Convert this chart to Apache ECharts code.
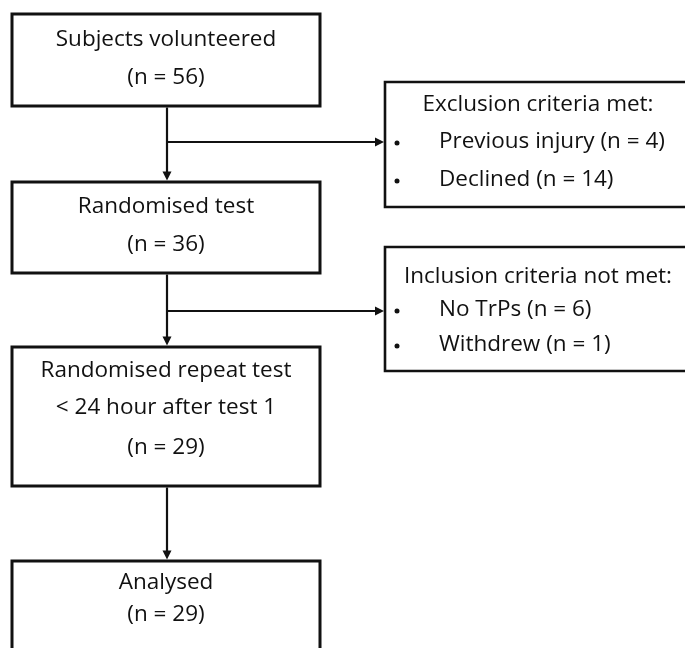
<!DOCTYPE html>
<html><head><meta charset="utf-8">
<script src="https://cdn.jsdelivr.net/npm/echarts@6/dist/echarts.min.js"></script>
<style>html,body{margin:0;padding:0;background:#fff}#c{width:685px;height:648px}</style>
</head><body><div id="c"></div>
<script>
// Flow stages (main column)
const stageLabels = ['Subjects volunteered', 'Randomised test', 'Randomised repeat test\n< 24 hour after test 1', 'Analysed'];
const stageCounts = [56, 36, 29, 29];
// Side boxes
const sideTitles = ['Exclusion criteria met:', 'Inclusion criteria not met:'];
const sideReasons = [['Previous injury', 'Declined'], ['No TrPs', 'Withdrew']];
const sideCounts = [[4, 14], [6, 1]];

const chart = echarts.init(document.getElementById('c'), null, {renderer: 'canvas'});
const FONT = '"Open Sans", "Noto Sans", sans-serif';
const FS = 22.5;
const COL = '#111';

// layout (pixels)
const mainBoxes = [
  {x: 12, y: 14, w: 308, h: 92, lines: [40, 78]},
  {x: 12, y: 182, w: 308, h: 91, lines: [207, 245]},
  {x: 12, y: 347, w: 308, h: 139, lines: [371, 408, 448]},
  {x: 12, y: 561, w: 308, h: 100, lines: [583, 615]}
];
const sideBoxes = [
  {x: 385, y: 82, w: 320, h: 125, titleX: 538, titleY: 105, rowY: [142, 180], branchY: 142},
  {x: 385, y: 247, w: 320, h: 124, titleX: 538, titleY: 277, rowY: [310, 345], branchY: 311}
];
const cx = 167;

const g = [];
function txt(x, y, s, align) {
  g.push({type: 'text', x: x, y: y, style: {text: s, font: FS + 'px ' + FONT, fill: COL, align: align || 'center', verticalAlign: 'middle'}});
}
function line(x1, y1, x2, y2) {
  g.push({type: 'line', shape: {x1, y1, x2, y2}, style: {stroke: COL, lineWidth: 2.2}});
}
function arrowDown(x, y) { // tip at (x,y)
  g.push({type: 'polygon', shape: {points: [[x - 4.5, y - 9], [x + 4.5, y - 9], [x, y]]}, style: {fill: COL}});
}
function arrowRight(x, y) {
  g.push({type: 'polygon', shape: {points: [[x - 9, y - 4.5], [x - 9, y + 4.5], [x, y]]}, style: {fill: COL}});
}

mainBoxes.forEach((b, i) => {
  g.push({type: 'rect', shape: {x: b.x, y: b.y, width: b.w, height: b.h}, style: {fill: '#fff', stroke: COL, lineWidth: 3}});
  const parts = stageLabels[i].split('\n');
  parts.push('(n = ' + stageCounts[i] + ')');
  parts.forEach((p, k) => txt(b.x + b.w / 2, b.lines[k], p));
  if (i < mainBoxes.length - 1) {
    const nb = mainBoxes[i + 1];
    line(cx, b.y + b.h + 1.5, cx, nb.y - 6);
    arrowDown(cx, nb.y - 1.5);
  }
});

sideBoxes.forEach((s, i) => {
  g.push({type: 'rect', shape: {x: s.x, y: s.y, width: s.w, height: s.h}, style: {fill: '#fff', stroke: COL, lineWidth: 2.6}});
  txt(s.titleX, s.titleY, sideTitles[i]);
  sideReasons[i].forEach((r, k) => {
    g.push({type: 'circle', shape: {cx: s.x + 12, cy: s.rowY[k] + 1, r: 2.5}, style: {fill: COL}});
    txt(s.x + 54, s.rowY[k], r + ' (n = ' + sideCounts[i][k] + ')', 'left');
  });
  line(cx, s.branchY, s.x - 6, s.branchY);
  arrowRight(s.x - 1, s.branchY);
});

chart.setOption({backgroundColor: '#fff', animation: false, graphic: {elements: g}});
</script></body></html>
